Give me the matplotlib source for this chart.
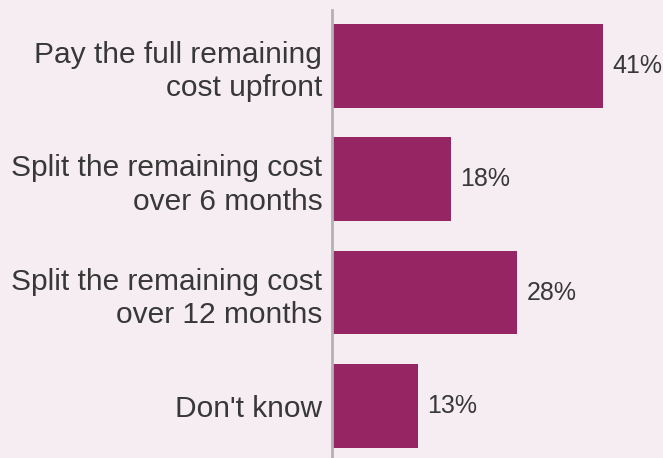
import matplotlib.pyplot as plt

labels = ["Pay the full remaining\ncost upfront",
          "Split the remaining cost\nover 6 months",
          "Split the remaining cost\nover 12 months",
          "Don't know"]
values = [41, 18, 28, 13]

bg = "#f6edf2"
bar_color = "#952563"
text_color = "#383838"

plt.rcParams['font.family'] = ['Liberation Sans', 'DejaVu Sans']

fig = plt.figure(figsize=(6.63, 4.58), dpi=100, facecolor=bg)
ax = fig.add_axes([332 / 663, 0, 331 / 663, 1 - 10 / 458])
ax.set_facecolor(bg)

pos = range(len(values))
ax.barh(pos, values, height=0.74, color=bar_color)
ax.set_ylim(3.46, -0.494)
ax.set_xlim(0, 50)

for p, v in zip(pos, values):
    ax.annotate(f"{v}%", (v, p), xytext=(6.5, 0), textcoords="offset points",
                ha="left", va="center", fontsize=18, color=text_color)

ax.set_yticks(list(pos))
ax.set_yticklabels(labels, fontsize=21.5, color=text_color, linespacing=1.25)
ax.tick_params(axis="y", length=0, pad=7)
ax.set_xticks([])
for s in ["top", "right", "bottom"]:
    ax.spines[s].set_visible(False)
ax.spines["left"].set_color("#b5b0b3")
ax.spines["left"].set_linewidth(2)

fig.savefig("out.png", dpi=100, facecolor=bg)
